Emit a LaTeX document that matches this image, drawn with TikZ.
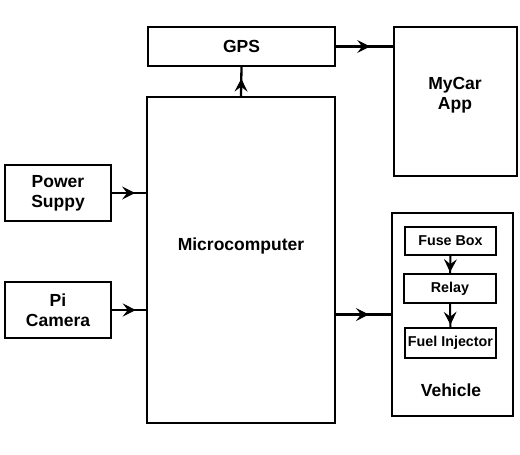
\documentclass[tikz,border=0pt]{standalone}
\usepackage{fontspec}
\setmainfont{Liberation Sans}
\usetikzlibrary{arrows.meta,decorations.markings}
\begin{document}
\begin{tikzpicture}[x=1pt,y=-1pt,
  box/.style={draw,line width=2.3pt,inner sep=0pt,align=center,font=\fontsize{17.5}{20}\selectfont\bfseries},
  sbox/.style={draw,line width=2pt,inner sep=0pt,align=center,font=\fontsize{14.3}{16}\selectfont\bfseries},
  txt/.style={align=center,font=\fontsize{17.5}{20}\selectfont\bfseries},
  conn/.style={line width=2.3pt,postaction={decorate},decoration={markings,mark=at position #1 with {\arrow[line width=1pt]{Stealth[length=13pt,width=13pt,inset=5pt]}}}},
  conn/.default=0.6]
\useasboundingbox[fill=white] (0,0) rectangle (520,455);
\node[box,minimum width=187pt,minimum height=39pt] (gps) at (241.5,46.5) {GPS};
\node[box,minimum width=123pt,minimum height=149pt] (app) at (455.5,101.5) {};
\node[txt] (apptxt) at (455,95) {MyCar\\App};
\node[box,minimum width=188pt,minimum height=326pt] (mc) at (241,260) {};
\node[txt] (mctxt) at (241,246) {Microcomputer};
\node[box,minimum width=106pt,minimum height=56pt] (pwr) at (58,193) {Power\\Suppy};
\node[box,minimum width=106pt,minimum height=56pt] (cam) at (58,310) {Pi\\Camera};
\node[box,minimum width=121pt,minimum height=203pt] (veh) at (452.5,314.5) {};
\node[txt] (vehtxt) at (451,390) {Vehicle};
\node[sbox,minimum width=91pt,minimum height=28pt] (fuse) at (450.5,241) {Fuse Box};
\node[sbox,minimum width=92pt,minimum height=29pt] (relay) at (450,288.5) {Relay};
\node[sbox,minimum width=91pt,minimum height=30pt] (inj) at (450.5,343) {Fuel Injector};
\draw[conn=0.6] (mc.north) -- (gps.south);
\draw[conn=0.6] (gps.east) -- (gps.east -| app.west);
\draw[conn=0.68] (pwr.east) -- (pwr.east -| mc.west);
\draw[conn=0.7] (cam.east) -- (cam.east -| mc.west);
\draw[conn=0.6] (veh.west -| mc.east) -- (veh.west);
\draw[conn=0.95,line width=2pt] (fuse.south) -- (relay.north);
\draw[conn=0.9,line width=2pt] (relay.south) -- (inj.north);
\end{tikzpicture}
\end{document}
